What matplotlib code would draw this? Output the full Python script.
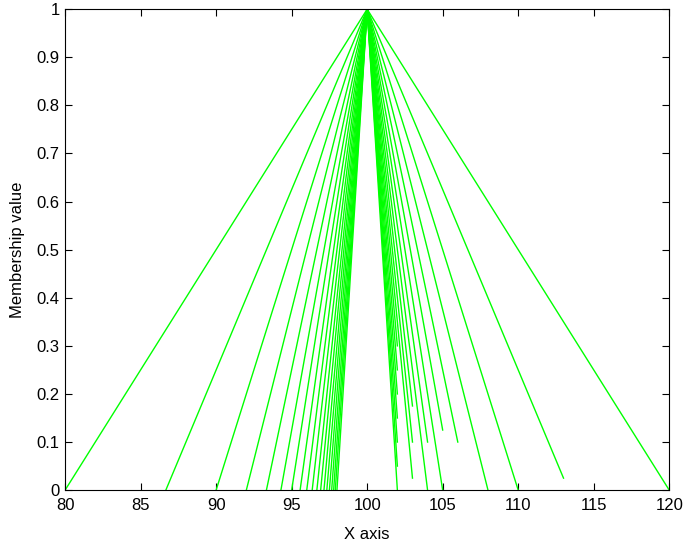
import numpy as np
import matplotlib
matplotlib.use('Agg')
import matplotlib.pyplot as plt

# triangular membership functions, all peaking at 100
peak_x = 100
left_feet = [80, 86.67, 90, 92, 93.33, 94.29, 95, 95.56, 96, 96.36,
             96.67, 96.92, 97.14, 97.33, 97.5, 97.65, 97.78, 97.89, 98]
right_end_x = [120, 113, 110, 108, 106, 105, 105, 104, 104, 103,
               103, 103, 102, 102, 102, 102, 102, 102, 102]
right_end_y = [0, 0.025, 0, 0, 0.1, 0.125, 0, 0.1, 0, 0.175,
               0.1, 0.025, 0.3, 0.25, 0.2, 0.15, 0.1, 0.05, 0]

xticks = np.arange(80, 121, 5)
yticks = np.round(np.arange(0, 1.01, 0.1), 1)
ytick_labels = ['0'] + ['%.1f' % v for v in yticks[1:-1]] + ['1']

plt.rcParams['font.family'] = ['Liberation Sans', 'DejaVu Sans']

fig = plt.figure(figsize=(6.85, 5.41), dpi=100)
ax = fig.add_axes([0.095, 0.094, 0.882, 0.889])

for a, xe, ye in zip(left_feet, right_end_x, right_end_y):
    ax.plot([a, peak_x, xe], [0, 1, ye], color=(0, 1, 0), linewidth=1)

ax.set_xlim(80, 120)
ax.set_ylim(0, 1)
ax.set_xticks(xticks)
ax.set_yticks(yticks)
ax.set_yticklabels(ytick_labels)
ax.tick_params(direction='in', top=True, right=True, labelsize=12, length=5)
ax.tick_params(axis='x', pad=6)
ax.tick_params(axis='y', pad=4)
ax.set_xlabel('X axis', fontsize=12, labelpad=10)
ax.set_ylabel('Membership value', fontsize=12, labelpad=8)

fig.savefig('out.png', dpi=100)
